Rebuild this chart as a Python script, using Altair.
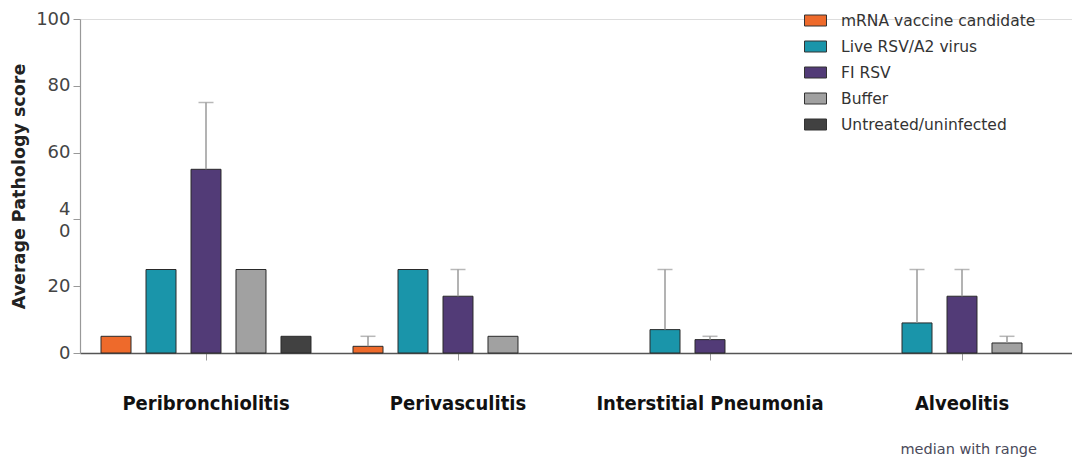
import altair as alt
import pandas as pd

categories = ["Peribronchiolitis", "Perivasculitis", "Interstitial Pneumonia", "Alveolitis"]
groups = ["mRNA vaccine candidate", "Live RSV/A2 virus", "FI RSV", "Buffer", "Untreated/uninfected"]
colors = ["#EE6A2B", "#1A95AA", "#523B77", "#A1A1A1", "#414141"]

# median and max (range upper end) per group, one entry per category; None = no bar
mrna_median = [5, 2, None, None]
mrna_max = [5, 5, None, None]
live_median = [25, 25, 7, 9]
live_max = [25, 25, 25, 25]
fi_median = [55, 17, 4, 17]
fi_max = [75, 25, 5, 25]
buffer_median = [25, 5, None, 3]
buffer_max = [25, 5, None, 5]
untreated_median = [5, None, None, None]
untreated_max = [5, None, None, None]

y_ticks = [0, 20, 40, 60, 80, 100]
note_text = ["median with range"]

series = [
    (groups[0], mrna_median, mrna_max),
    (groups[1], live_median, live_max),
    (groups[2], fi_median, fi_max),
    (groups[3], buffer_median, buffer_max),
    (groups[4], untreated_median, untreated_max),
]
rows = []
for g, meds, maxs in series:
    for c, m, mx in zip(categories, meds, maxs):
        if m is None:
            continue
        rows.append({"category": c, "group": g, "median": m, "max": mx})
df = pd.DataFrame(rows)
df_err = df[df["max"] > df["median"]]

font = "DejaVu Sans"

x_enc = alt.X(
    "category:N",
    sort=categories,
    scale=alt.Scale(domain=categories, range=[0, 1008], paddingInner=0, paddingOuter=0),
    axis=alt.Axis(
        title=None, labelAngle=0, labelFont="DejaVu Sans Condensed", labelFontSize=20,
        labelFontWeight="bold", labelColor="#111", labelPadding=33, tickSize=7,
        tickColor="#999", domainColor="#555", domainWidth=1.5, labelBaseline="top",
        labelLimit=0,
    ),
)
xoff_enc = alt.XOffset(
    "group:N",
    scale=alt.Scale(domain=groups, paddingInner=1 / 3, paddingOuter=0.4667),
)
y_scale = alt.Scale(domain=[0, 100], nice=False)

bars = alt.Chart(df).mark_bar(stroke="#2a2a2a", strokeWidth=1).encode(
    x=x_enc,
    xOffset=xoff_enc,
    y=alt.Y(
        "median:Q",
        scale=y_scale,
        axis=alt.Axis(
            title="Average Pathology score", values=y_ticks, grid=False,
            labelFont=font, labelFontSize=18, labelColor="#444", labelPadding=3,
            labelLineHeight=22,
            labelOffset={"condition": {"test": "datum.value == 40", "value": -10}, "value": 0},
            tickSize=7, tickColor="#999", domainColor="#999", domainWidth=1.2,
            titleFont=font, titleFontSize=17.5, titleFontWeight="bold", titleColor="#222",
            titlePadding=7,
            labelExpr="datum.value == 40 ? ['4', '0'] : datum.label",
        ),
    ),
    color=alt.Color(
        "group:N",
        scale=alt.Scale(domain=groups, range=colors),
        legend=alt.Legend(
            orient="none", legendX=724, legendY=-10, title=None,
            symbolType="M-1,-0.5H1V0.5H-1Z", symbolSize=484,
            symbolStrokeColor="#333", symbolStrokeWidth=1, symbolOpacity=1,
            labelFont=font, labelFontSize=15.5, labelColor="#333", labelLimit=0,
            labelOffset=14, rowPadding=6, padding=0,
        ),
    ),
)

err = alt.Chart(df_err).mark_rule(color="#9a9a9a", strokeWidth=1.5).encode(
    x=x_enc, xOffset=xoff_enc, y=alt.Y("median:Q", scale=y_scale), y2="max:Q"
)
cap = alt.Chart(df_err).mark_tick(color="#9a9a9a", thickness=1.5, size=15).encode(
    x=x_enc, xOffset=xoff_enc, y=alt.Y("max:Q", scale=y_scale)
)

note = alt.Chart(pd.DataFrame({"t": note_text})).mark_text(
    align="right", baseline="middle", font=font, fontSize=14.5, color="#4a4a5a"
).encode(text="t:N", x=alt.value(957), y=alt.value(431))

chart = alt.layer(bars, err, cap, note).properties(
    width=992, height=334,
    autosize=alt.AutoSizeParams(type="none"),
    padding={"left": 72, "top": 11, "right": 0, "bottom": 104},
).configure_view(stroke=None).configure(background="white")

chart.save("out.html", embed_options={"renderer": "svg", "actions": False})
